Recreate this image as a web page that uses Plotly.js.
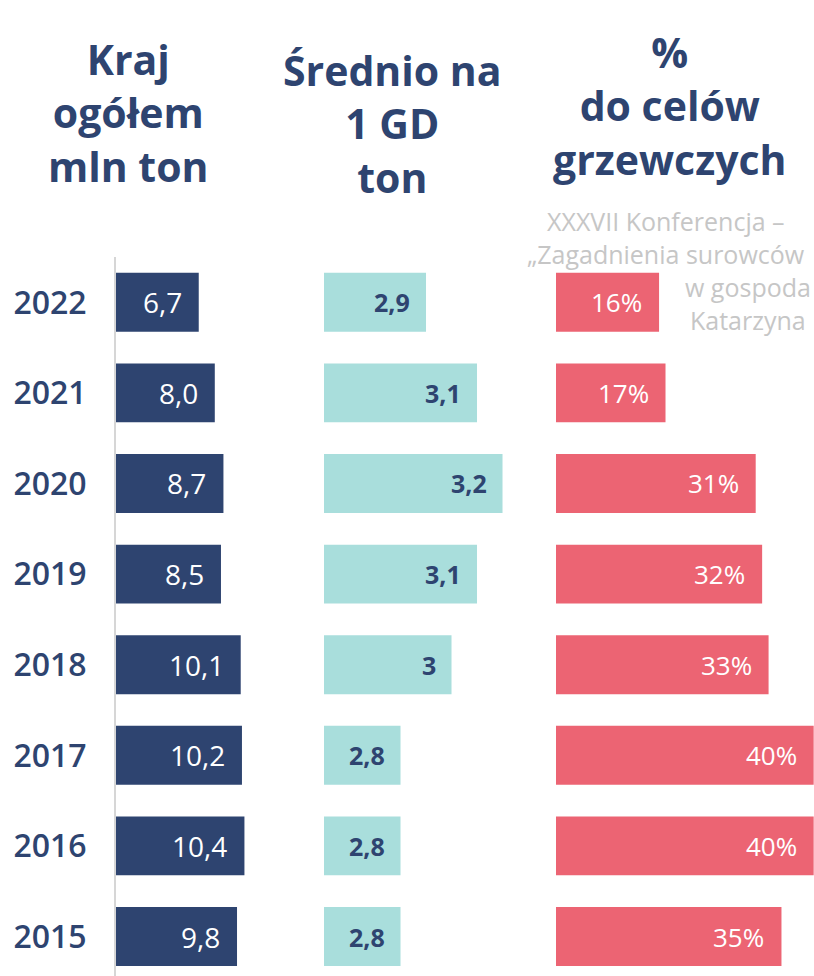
<!DOCTYPE html>
<html>
<head>
<meta charset="utf-8">
<script src="https://cdn.plot.ly/plotly-3.0.1.min.js"></script>
<style>
html, body { margin: 0; padding: 0; background: #ffffff; }
#chart { width: 814px; height: 976px; }
</style>
</head>
<body>
<div id="chart"></div>
<script>
// Data
var years = ['2015', '2016', '2017', '2018', '2019', '2020', '2021', '2022'];
var krajOgolem = [9.8, 10.4, 10.2, 10.1, 8.5, 8.7, 8.0, 6.7];        // mln ton
var srednioNa1GD = [2.8, 2.8, 2.8, 3.0, 3.1, 3.2, 3.1, 2.9];          // ton
var doCelowGrzewczych = [35, 40, 40, 33, 32, 31, 17, 16];             // %
var panelTitles = ['Kraj<br>ogółem<br>mln ton', 'Średnio na<br>1 GD<br>ton', '%<br>do celów<br>grzewczych'];
var watermarkLines = ['XXXVII Konferencja –', '„Zagadnienia surowców', 'w gospoda', 'Katarzyna'];

var NAVY = '#2e4470';
var TEAL = '#a9dedc';
var RED = '#ec6473';
var FONT = '"Open Sans", Lato, sans-serif';

function fmt1(v) { return v.toFixed(1).replace('.', ','); }
function fmt2(v) { return String(v).replace('.', ','); }
function fmt3(v) { return v + '%'; }

var barW = 0.65;
var traces = [
  { type: 'bar', orientation: 'h', y: years, x: krajOgolem, xaxis: 'x', yaxis: 'y',
    marker: { color: NAVY }, width: barW, hoverinfo: 'none' },
  { type: 'bar', orientation: 'h', y: years, x: srednioNa1GD, xaxis: 'x2', yaxis: 'y',
    marker: { color: TEAL }, width: barW, hoverinfo: 'none' },
  { type: 'bar', orientation: 'h', y: years, x: doCelowGrzewczych, xaxis: 'x3', yaxis: 'y',
    marker: { color: RED }, width: barW, hoverinfo: 'none' }
];

var annotations = [];
years.forEach(function (yr, i) {
  // category axes: annotation y is the category index
  annotations.push({ xref: 'x', yref: 'y', x: krajOgolem[i], y: i, text: fmt1(krajOgolem[i]),
    xanchor: 'right', yanchor: 'middle', xshift: -15, showarrow: false,
    font: { family: FONT, size: 28, color: '#ffffff', weight: 500 } });
  annotations.push({ xref: 'x2', yref: 'y', x: srednioNa1GD[i], y: i, text: fmt2(srednioNa1GD[i]),
    xanchor: 'right', yanchor: 'middle', xshift: -14, showarrow: false,
    font: { family: FONT, size: 25, color: NAVY, weight: 700 } });
  annotations.push({ xref: 'x3', yref: 'y', x: doCelowGrzewczych[i], y: i, text: fmt3(doCelowGrzewczych[i]),
    xanchor: 'right', yanchor: 'middle', xshift: -15, showarrow: false,
    font: { family: FONT, size: 26, color: '#ffffff', weight: 500 } });
});

// Panel titles
var titleX = [128, 392, 670];
var titleY = [112, 124, 106];
panelTitles.forEach(function (t, i) {
  annotations.push({ xref: 'paper', yref: 'paper', x: titleX[i] / 814, y: 1 - titleY[i] / 976,
    text: t, xanchor: 'center', yanchor: 'middle', align: 'center', showarrow: false,
    font: { family: FONT, size: 41, color: NAVY, weight: 700 } });
});

// Watermark
var wmX = [545, 525, 683, 688];
var wmY = [221, 254, 287, 320];
watermarkLines.forEach(function (t, i) {
  annotations.push({ xref: 'paper', yref: 'paper', x: wmX[i] / 814, y: 1 - wmY[i] / 976, text: t,
    xanchor: 'left', yanchor: 'middle', showarrow: false,
    font: { family: FONT, size: 25, color: '#c6c6c6' } });
});

var hiddenX = { showgrid: false, zeroline: false, showticklabels: false, showline: false, ticks: '', fixedrange: true };

var layout = {
  width: 814, height: 976,
  margin: { l: 0, r: 0, t: 0, b: 0, pad: 0 },
  paper_bgcolor: '#ffffff', plot_bgcolor: 'rgba(0,0,0,0)',
  showlegend: false,
  font: { family: FONT },
  xaxis: Object.assign({}, hiddenX, { domain: [116 / 814, 300 / 814], range: [0, 14.9], anchor: 'y' }),
  xaxis2: Object.assign({}, hiddenX, { domain: [324 / 814, 540 / 814], range: [2.5, 3.347], anchor: 'y' }),
  xaxis3: Object.assign({}, hiddenX, { domain: [556 / 814, 1], range: [0, 40.05], anchor: 'y' }),
  yaxis: {
    type: 'category', categoryorder: 'array', categoryarray: years,
    domain: [0, 719 / 976], range: [-0.436, 7.5], anchor: 'x',
    showgrid: false, zeroline: false,
    showline: true, linecolor: '#d6d6d6', linewidth: 2,
    ticks: 'outside', ticklen: 21, tickcolor: 'rgba(0,0,0,0)',
    tickfont: { family: FONT, size: 32, color: NAVY, weight: 600 }
  },
  annotations: annotations
};

Plotly.newPlot('chart', traces, layout, { displayModeBar: false, staticPlot: true });
</script>
</body>
</html>
